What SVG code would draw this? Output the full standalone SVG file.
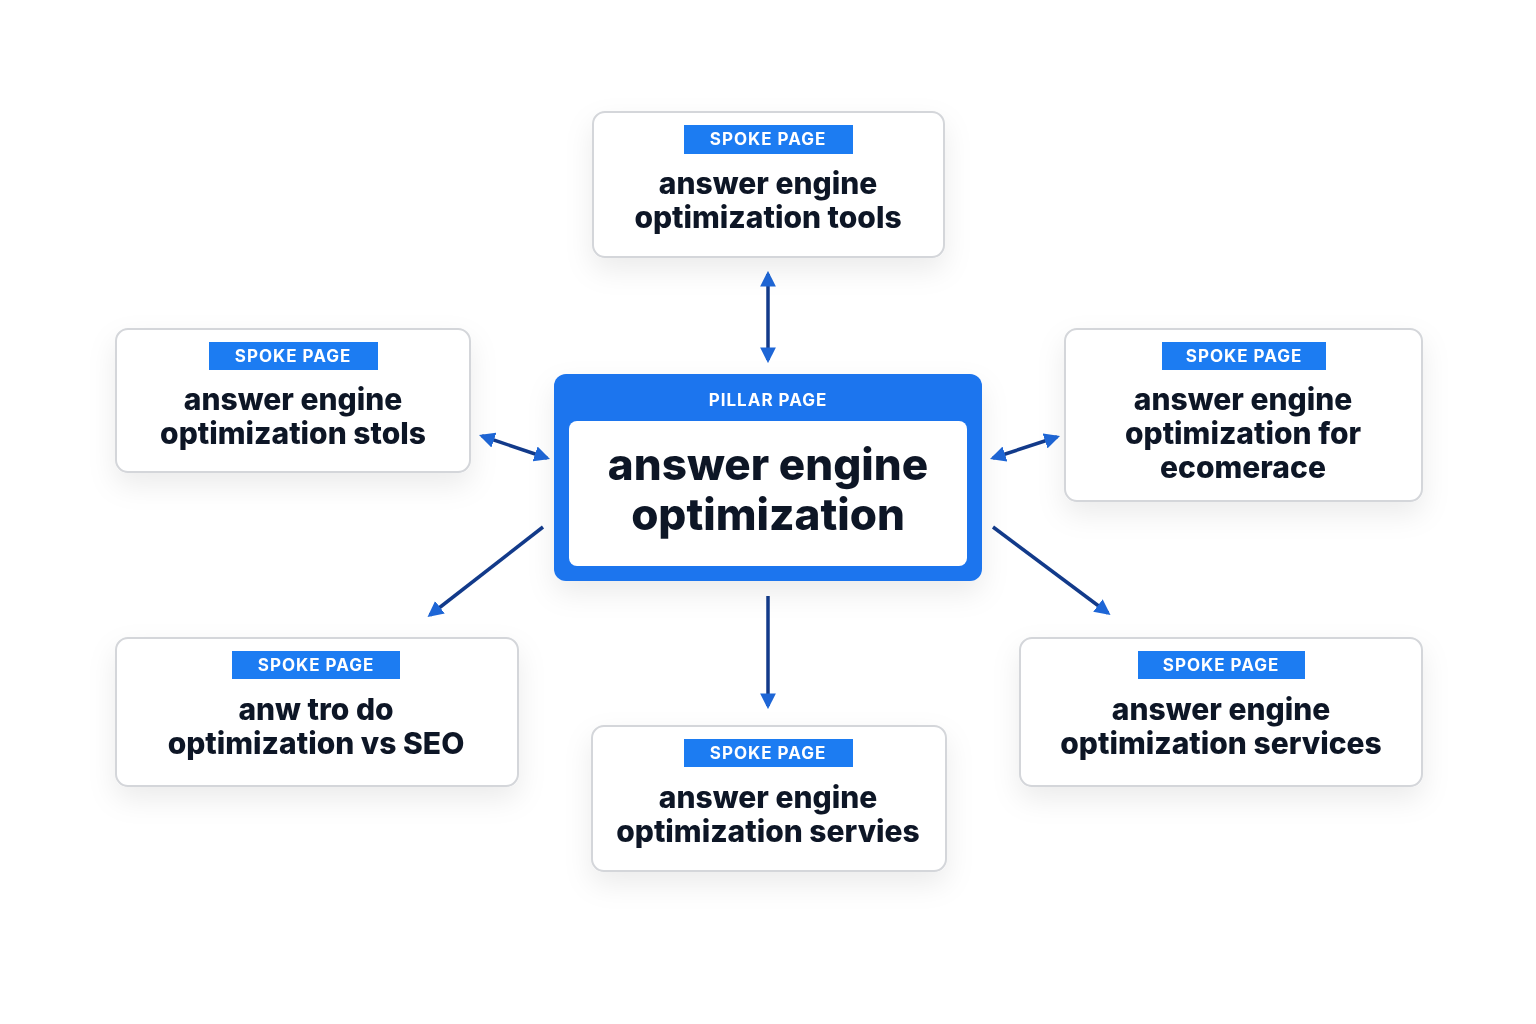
<svg xmlns="http://www.w3.org/2000/svg" width="1536" height="1024" viewBox="0 0 1536 1024">
<style>
.card{fill:#fff;stroke:#d4d6da;stroke-width:2}
.tag{fill:#1e7cf2}
.tagt{font-family:Inter,"Noto Sans",sans-serif;font-weight:700;font-size:17px;fill:#fff;text-anchor:middle;letter-spacing:1px}
.tt{font-family:Inter,"Noto Sans",sans-serif;font-weight:800;font-size:30px;fill:#111827;text-anchor:middle}
.pt{font-family:Inter,"Noto Sans",sans-serif;font-weight:800;font-size:44px;fill:#111827;text-anchor:middle}
.c{stroke:#123a8a;stroke-width:3.5;fill:none}
</style>
<defs>
<marker id="a" viewBox="0 0 10 10" refX="8" refY="5" markerWidth="4.5" markerHeight="4.5" orient="auto-start-reverse"><path d="M0,0L10,5L0,10z" fill="#1e66d6"/></marker>
<filter id="sh" x="-20%" y="-20%" width="140%" height="160%"><feDropShadow dx="0" dy="12" stdDeviation="14" flood-color="#000" flood-opacity="0.08"/></filter>
</defs>
<rect width="1536" height="1024" fill="#fff"/>
<g id="connectors">
<line class="c" x1="768" y1="274" x2="768" y2="360" marker-start="url(#a)" marker-end="url(#a)"/>
<line class="c" x1="482" y1="436" x2="547" y2="458" marker-start="url(#a)" marker-end="url(#a)"/>
<line class="c" x1="993" y1="458" x2="1057" y2="437" marker-start="url(#a)" marker-end="url(#a)"/>
<line class="c" x1="543" y1="527" x2="430" y2="615" marker-end="url(#a)"/>
<line class="c" x1="768" y1="596" x2="768" y2="706" marker-end="url(#a)"/>
<line class="c" x1="993" y1="527" x2="1108" y2="613" marker-end="url(#a)"/>
</g>
<g id="pillar" filter="url(#sh)">
<rect x="554" y="374" width="428" height="207" rx="12" fill="#1b74ee"/>
<text x="768" y="406" class="tagt" font-size="20" letter-spacing="2.5">PILLAR PAGE</text>
<rect x="569" y="421" width="398" height="145" rx="8" fill="#fff"/>
<text x="768" y="480" class="pt">answer engine</text>
<text x="768" y="530" class="pt">optimization</text>
</g>
<g id="top" filter="url(#sh)">
<rect class="card" x="593" y="112" width="351" height="145" rx="12"/>
<rect class="tag" x="684" y="125" width="169" height="29"/>
<text x="768" y="145" class="tagt">SPOKE PAGE</text>
<text x="768" y="194" class="tt">answer engine</text>
<text x="768" y="228" class="tt">optimization tools</text>
</g>
<g id="left" filter="url(#sh)">
<rect class="card" x="116" y="329" width="354" height="143" rx="12"/>
<rect class="tag" x="209" y="342" width="169" height="28"/>
<text x="293" y="362" class="tagt">SPOKE PAGE</text>
<text x="293" y="410" class="tt">answer engine</text>
<text x="293" y="444" class="tt">optimization stols</text>
</g>
<g id="right" filter="url(#sh)">
<rect class="card" x="1065" y="329" width="357" height="172" rx="12"/>
<rect class="tag" x="1162" y="342" width="164" height="28"/>
<text x="1244" y="362" class="tagt">SPOKE PAGE</text>
<text x="1243" y="410" class="tt">answer engine</text>
<text x="1243" y="444" class="tt">optimization for</text>
<text x="1243" y="478" class="tt">ecomerace</text>
</g>
<g id="bottomleft" filter="url(#sh)">
<rect class="card" x="116" y="638" width="402" height="148" rx="12"/>
<rect class="tag" x="232" y="651" width="168" height="28"/>
<text x="316" y="671" class="tagt">SPOKE PAGE</text>
<text x="316" y="720" class="tt">anw tro do</text>
<text x="316" y="754" class="tt">optimization vs SEO</text>
</g>
<g id="bottom" filter="url(#sh)">
<rect class="card" x="592" y="726" width="354" height="145" rx="12"/>
<rect class="tag" x="684" y="739" width="169" height="28"/>
<text x="768" y="759" class="tagt">SPOKE PAGE</text>
<text x="768" y="808" class="tt">answer engine</text>
<text x="768" y="842" class="tt">optimization servies</text>
</g>
<g id="bottomright" filter="url(#sh)">
<rect class="card" x="1020" y="638" width="402" height="148" rx="12"/>
<rect class="tag" x="1138" y="651" width="167" height="28"/>
<text x="1221" y="671" class="tagt">SPOKE PAGE</text>
<text x="1221" y="720" class="tt">answer engine</text>
<text x="1221" y="754" class="tt">optimization services</text>
</g>
</svg>
